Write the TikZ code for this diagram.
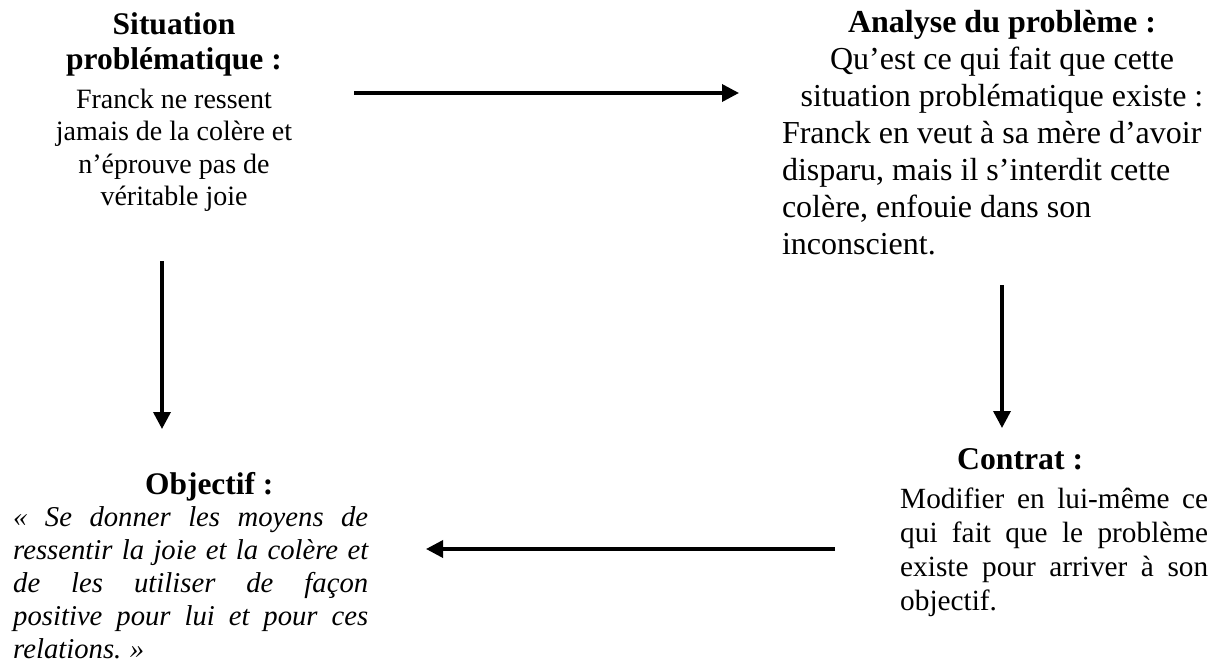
\documentclass[tikz,border=0pt]{standalone}
\usepackage{fontspec}
\setmainfont{Liberation Serif}
\usetikzlibrary{arrows.meta}
\newcommand\setws{\spaceskip=.25em plus .3em minus .06em\relax\xspaceskip=.3em plus .3em\relax}
\newcommand\setwsc{\spaceskip=.25em\relax\xspaceskip=.25em\relax}
\begin{document}
\begin{tikzpicture}[x=1pt,y=-1pt,
  conn/.style={line width=3.5pt,-{Triangle[length=17pt,width=17pt]}},
  blk/.style={inner sep=0pt}]
\useasboundingbox (0,0) rectangle (1223,663);

\node[blk, anchor=base, text width=270pt] (sit) at (174,35)
 {\centering{\fontsize{31.5}{35}\selectfont\bfseries\setwsc Situation\\ problématique :\par}\vspace{6pt}%
  {\fontsize{28}{32.5}\selectfont\setwsc Franck ne ressent\\ jamais de la colère et\\ n’éprouve pas de\\ véritable joie\par}};

\node[blk, anchor=base, text width=440pt] (ana) at (1002,33)
 {\fontsize{32}{37}\selectfont\setwsc
  {\centering\textbf{Analyse du problème :}\\ Qu’est ce qui fait que cette\\ situation problématique existe :\par}%
  {\raggedright Franck en veut à sa mère d’avoir\\ disparu, mais il s’interdit cette\\ colère, enfouie dans son\\ inconscient.\par}};

\node[blk, anchor=base west, text width=355pt, align=justify] (obj) at (13,494)
 {{\fontsize{31.4}{35}\selectfont\bfseries\setwsc\hspace*{132pt}Objectif :\par}\vspace{-1pt}%
  {\fontsize{28.7}{33}\selectfont\itshape\setws « Se donner les moyens de\linebreak ressentir la joie et la colère et\linebreak de les utiliser de façon\linebreak positive pour lui et pour ces\linebreak relations. »\par}};

\node[blk, anchor=base west, text width=308pt, align=justify] (con) at (900,469)
 {{\fontsize{31.7}{35}\selectfont\bfseries\setwsc\hspace*{57pt}Contrat :\par}\vspace{5pt}%
  {\fontsize{29.3}{34}\selectfont\setws Modifier en lui-même ce\linebreak qui fait que le problème\linebreak existe pour arriver à son\linebreak objectif.\par}};

\coordinate (t1) at (354,93);
\coordinate (t2) at (739,93);
\coordinate (l1) at (162,261);
\coordinate (l2) at (162,429);
\coordinate (r1) at (1002,285);
\coordinate (r2) at (1002,428);
\coordinate (b1) at (835,549);
\coordinate (b2) at (426,549);

\draw[conn] (t1) -- (t2);
\draw[conn] (l1) -- (l2);
\draw[conn] (r1) -- (r2);
\draw[conn] (b1) -- (b2);
\end{tikzpicture}
\end{document}
